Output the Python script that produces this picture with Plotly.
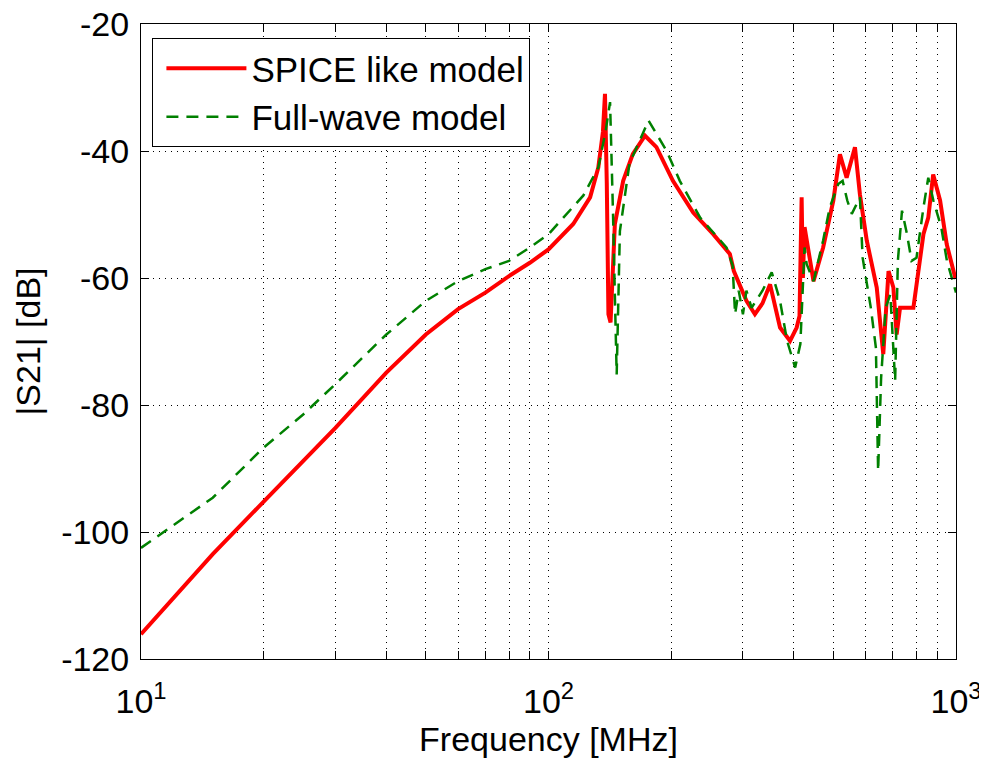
import plotly.graph_objects as go

spice_f = [10, 15, 20, 25, 30, 40, 50, 60, 70, 80, 90, 100, 115, 126.5, 132.5, 136, 137.6, 139,
           140.3, 142, 145.5, 152.5, 161, 172.5, 184, 202, 226.5, 253.6, 278.6, 285, 306, 321,
           335, 349.7, 370, 391.5, 406.5, 413, 418, 421, 425, 447, 472, 500, 519, 539, 565, 581,
           604, 639, 663, 683, 702, 715, 729, 786, 832, 855, 879, 914, 949, 995, 1000]
spice_db = [-116.1, -103.5, -95.2, -88.9, -83.6, -74.9, -68.9, -64.9, -62.3, -59.7, -57.6, -55.5,
            -51.5, -47.3, -42.6, -37.0, -31.0, -45.0, -65.7, -67.0, -51.5, -44.7, -40.5, -37.6,
            -39.4, -44.7, -49.7, -53.1, -56.2, -58.9, -63.6, -65.7, -64.0, -61.0, -67.8, -69.9,
            -67.8, -66.0, -47.3, -60.0, -52.0, -60.5, -55.2, -47.8, -40.5, -44.2, -39.4, -46.8,
            -54.1, -61.5, -72.0, -58.9, -61.5, -68.9, -64.7, -64.7, -53.1, -50.5, -43.7, -47.8,
            -54.7, -59.9, -60.0]

fw_f = [10, 15, 20, 25, 30, 40, 50, 60, 70, 80, 90, 100, 121.8, 132.5, 138, 141.6, 144, 147,
        149.7, 158, 176, 195, 210, 235.6, 273.5, 283, 287, 293, 300, 306, 315, 335, 353, 370,
        385, 403, 415, 425, 430, 447, 472, 490, 514, 527, 541, 555, 581, 590, 618, 636, 644,
        655, 672, 690, 709, 720, 737, 758, 778, 800, 832, 855, 880, 920, 950, 995, 1000]
fw_db = [-102.5, -94.6, -86.7, -81.5, -76.7, -68.9, -63.6, -60.5, -58.6, -57.3, -55.2, -53.1,
         -47.0, -42.6, -37.0, -32.3, -50.0, -75.2, -52.6, -42.0, -35.2, -40.0, -44.7, -50.5,
         -55.2, -58.0, -65.7, -62.0, -65.7, -62.0, -64.7, -62.0, -59.1, -63.6, -69.9, -74.1,
         -70.4, -55.2, -57.8, -60.5, -54.1, -48.9, -45.2, -44.7, -47.8, -49.9, -47.3, -56.8,
         -64.7, -71.0, -90.4, -75.7, -64.7, -62.6, -76.2, -57.3, -49.4, -53.1, -57.3, -56.8,
         -48.9, -44.2, -47.8, -52.0, -57.3, -62.0, -62.3]

x_tickvals = [10, 20, 30, 40, 50, 60, 70, 80, 90, 100, 200, 300, 400, 500, 600, 700, 800, 900, 1000]
x_ticktext = ["10<sup>1</sup>"] + [""] * 8 + ["10<sup>2</sup>"] + [""] * 8 + ["10<sup>3</sup>"]
y_tickvals = [-120, -100, -80, -60, -40, -20]
y_ticktext = ["-120", "-100", "-80", "-60", "-40", "-20"]

FAM = "Liberation Sans, Arial, sans-serif"
FS = 34

fig = go.Figure()
fig.add_trace(go.Scatter(x=spice_f, y=spice_db, mode="lines", name="SPICE like model",
                         line=dict(color="#ff0000", width=4)))
fig.add_trace(go.Scatter(x=fw_f, y=fw_db, mode="lines", name="Full-wave model",
                         line=dict(color="#008000", width=2.5, dash="12px,8px")))

# page body has an 8px margin, so the figure is offset by 8px in both directions
fig.update_layout(
    width=979, height=753,
    margin=dict(l=133, r=31, t=16, b=102),
    paper_bgcolor="white", plot_bgcolor="white",
    font=dict(family=FAM, size=FS, color="black"),
    showlegend=True,
    legend=dict(x=0.014, y=0.978, xanchor="left", yanchor="top",
                bgcolor="white", bordercolor="black", borderwidth=1,
                font=dict(family=FAM, size=35, color="black"),
                indentation=8, itemwidth=80, tracegroupgap=0),
    xaxis=dict(type="log", range=[1, 3], tickvals=x_tickvals, ticktext=x_ticktext,
               ticks="inside", ticklen=8, tickcolor="black", tickwidth=1,
               ticklabelstandoff=12, ticklabeloverflow="allow",
               tickfont=dict(family=FAM, size=FS, color="black"),
               showline=True, linecolor="black", linewidth=1, mirror="ticks",
               showgrid=True, gridcolor="black", gridwidth=1, griddash="1px,5px",
               zeroline=False, automargin=False,
               title=dict(text="Frequency [MHz]", standoff=0,
                          font=dict(family=FAM, size=FS, color="black"))),
    yaxis=dict(range=[-120, -20], tickvals=y_tickvals, ticktext=y_ticktext,
               ticks="inside", ticklen=8, tickcolor="black", tickwidth=1,
               ticklabelstandoff=4, ticklabeloverflow="allow",
               tickfont=dict(family=FAM, size=FS, color="black"),
               showline=True, linecolor="black", linewidth=1, mirror="ticks",
               showgrid=True, gridcolor="black", gridwidth=1, griddash="1px,5px",
               zeroline=False, automargin=False,
               title=dict(text="|S21| [dB]", standoff=10,
                          font=dict(family=FAM, size=FS, color="black"))),
)

fig.write_html("out.html")
